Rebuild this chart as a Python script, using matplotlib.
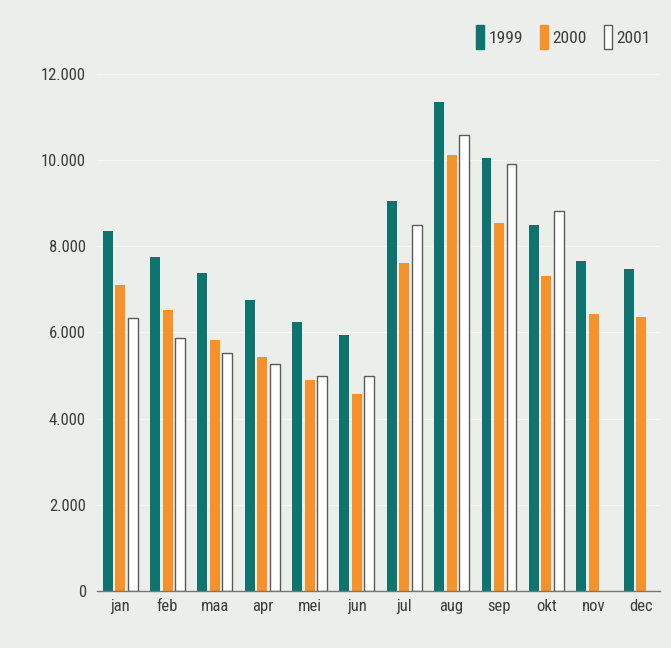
import matplotlib
matplotlib.use("Agg")
import matplotlib.pyplot as plt
from matplotlib import font_manager as fm
from matplotlib.patches import Patch
import numpy as np

months = ["jan", "feb", "maa", "apr", "mei", "jun", "jul", "aug", "sep", "okt", "nov", "dec"]
v1999 = [8350, 7750, 7390, 6750, 6250, 5930, 9050, 11350, 10040, 8490, 7660, 7470]
v2000 = [7100, 6520, 5820, 5420, 4890, 4580, 7620, 10120, 8530, 7310, 6430, 6360]
v2001 = [6330, 5870, 5530, 5260, 4990, 4990, 8490, 10580, 9920, 8820, None, None]
series_labels = ["1999", "2000", "2001"]
yticks = [0, 2000, 4000, 6000, 8000, 10000, 12000]
ytick_labels = ["0", "2.000", "4.000", "6.000", "8.000", "10.000", "12.000"]

available = {f.name for f in fm.fontManager.ttflist}
fam = "DejaVu Sans"
for cand in ["Liberation Sans Narrow", "Roboto Condensed", "DejaVu Sans Condensed", "Roboto"]:
    if cand in available:
        fam = cand
        break
plt.rcParams["font.family"] = [fam, "DejaVu Sans"]

bg = "#eceeeb"
teal = "#0f736f"
orange = "#f7922a"
txt = "#3d3d3d"

fig = plt.figure(figsize=(6.71, 6.48), dpi=100, facecolor=bg)
ax = fig.add_axes([0.1446, 0.088, 0.839, 0.798])
ax.set_facecolor(bg)

x = np.arange(len(months))
step = 0.264
w = 0.21
ax.bar(x - step, v1999, width=w, color=teal, zorder=3)
ax.bar(x, v2000, width=w, color=orange, zorder=3)
x3 = [xi + step for xi, v in zip(x, v2001) if v is not None]
y3 = [v for v in v2001 if v is not None]
ax.bar(x3, y3, width=w, color="white", edgecolor="#5a5a5a", linewidth=1.0, zorder=3)

ax.set_xlim(-0.49, 11.4)
ax.set_ylim(0, 12000)
ax.set_yticks(yticks)
ax.set_yticklabels(ytick_labels)
ax.set_xticks(x)
ax.set_xticklabels(months)
ax.grid(axis="y", color="white", linewidth=0.8, alpha=0.55, zorder=1)
ax.tick_params(axis="both", length=0, labelsize=12, labelcolor=txt)
ax.tick_params(axis="y", pad=8)
ax.tick_params(axis="x", pad=6)
for s in ["left", "right", "top"]:
    ax.spines[s].set_visible(False)
ax.spines["bottom"].set_color("#777777")
ax.spines["bottom"].set_linewidth(1.0)
ax.spines["bottom"].set_zorder(4)

handles = [Patch(facecolor=teal, edgecolor=teal),
           Patch(facecolor=orange, edgecolor=orange),
           Patch(facecolor="white", edgecolor="#5a5a5a", linewidth=1.0)]
leg = fig.legend(handles, series_labels, loc="center right", bbox_to_anchor=(0.993, 0.943),
                 ncol=3, frameon=False, fontsize=12.5, handlelength=0.45, handleheight=1.7,
                 handletextpad=0.25, columnspacing=1.0, labelcolor=txt)

fig.savefig("out.png", dpi=100, facecolor=bg)
